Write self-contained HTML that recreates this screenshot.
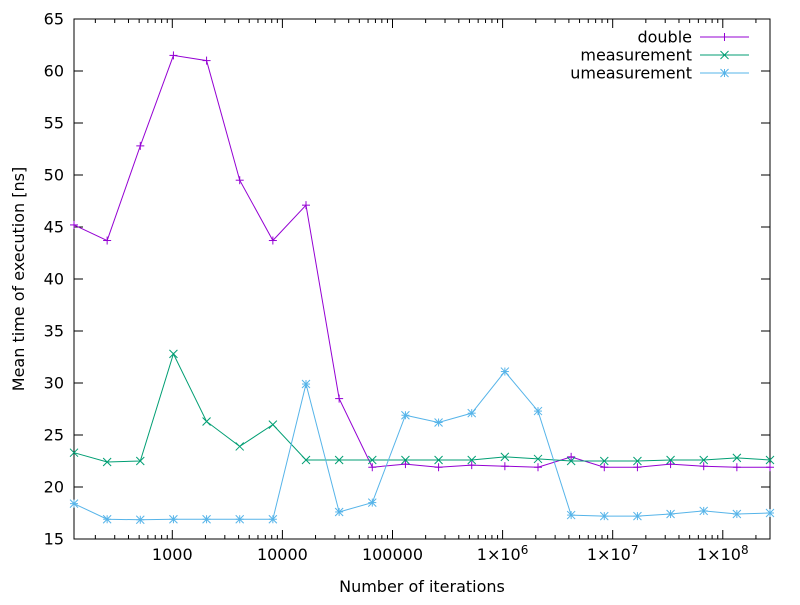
<!DOCTYPE html>
<html><head><meta charset="utf-8"><style>
body{margin:0;background:#fff}
svg text{font-family:"DejaVu Sans","Liberation Sans",sans-serif;font-size:16px;fill:#000}
</style></head><body>
<svg id="chart" width="800" height="600" xmlns="http://www.w3.org/2000/svg">
<g id="axes"></g>
<g id="series"></g>
<g id="legend"></g>
</svg>
<script>
const iterExponents=[7,8,9,10,11,12,13,14,15,16,17,18,19,20,21,22,23,24,25,26,27,28];
const doubleVals=[45.2,43.7,52.8,61.5,61.0,49.5,43.7,47.1,28.5,21.9,22.2,21.9,22.1,22.0,21.9,22.9,21.9,21.9,22.2,22.0,21.9,21.9];
const measurementVals=[23.3,22.4,22.5,32.8,26.3,23.9,26.0,22.6,22.6,22.6,22.6,22.6,22.6,22.9,22.7,22.5,22.5,22.5,22.6,22.6,22.8,22.6];
const umeasurementVals=[18.4,16.9,16.85,16.9,16.9,16.9,16.9,29.9,17.6,18.5,26.9,26.2,27.1,31.1,27.3,17.3,17.2,17.2,17.4,17.7,17.4,17.5];
const yTicks=[15,20,25,30,35,40,45,50,55,60,65];
const xTickBase=["1000","10000","100000","1×10","1×10","1×10"];
const xTickExp=["","","","6","7","8"];
const xTickValues=[1e3,1e4,1e5,1e6,1e7,1e8];

const L=74,R=770,T=19,B=539;
const xMin=Math.log10(128),xMax=Math.log10(Math.pow(2,28));
const X=v=>L+(Math.log10(v)-xMin)/(xMax-xMin)*(R-L);
const Y=v=>B-(v-15)/(65-15)*(B-T);
const NS="http://www.w3.org/2000/svg";
function mk(tag,attrs,parent){const e=document.createElementNS(NS,tag);for(const k in attrs)e.setAttribute(k,attrs[k]);parent.appendChild(e);return e;}
const axes=document.getElementById('axes');
const frame=mk('rect',{x:L,y:T,width:R-L,height:B-T,fill:'none',stroke:'#000','stroke-width':1},axes);


yTicks.forEach(v=>{
  const y=Y(v);
  mk('line',{x1:L,x2:L+9,y1:y,y2:y,stroke:'#000'},axes);
  mk('line',{x1:R,x2:R-9,y1:y,y2:y,stroke:'#000'},axes);
  const t=mk('text',{x:L-10,y:y+5.5,'text-anchor':'end'},axes);t.textContent=v;
  
  
});
for(let d=2;d<=8;d++){for(let m=1;m<10;m++){
  const v=m*Math.pow(10,d);const x=X(v);if(x<L-0.5||x>R+0.5)continue;
  const len=m===1?9:4;
  mk('line',{x1:x,x2:x,y1:B,y2:B-len,stroke:'#000'},axes);
  mk('line',{x1:x,x2:x,y1:T,y2:T+len,stroke:'#000'},axes);
}}
xTickValues.forEach((v,i)=>{
  const t=mk('text',{x:X(v),y:B+21,'text-anchor':'middle'},axes);
  
  
  const a=mk('tspan',{},t);a.textContent=xTickBase[i];
  if(xTickExp[i]){const b=mk('tspan',{dy:-6,'font-size':'12px'},t);b.textContent=xTickExp[i];}
});
const xt=mk('text',{x:422,y:592,'text-anchor':'middle'},axes);xt.textContent='Number of iterations';


const yt=mk('text',{x:24,y:279,'text-anchor':'middle',transform:'rotate(-90 24 279)'},axes);yt.textContent='Mean time of execution [ns]';



function marker(kind,x,y,c,g){
  const s=4;
  if(kind==='plus'||kind==='star'){mk('line',{x1:x-s,x2:x+s,y1:y,y2:y,stroke:c},g);mk('line',{x1:x,x2:x,y1:y-s,y2:y+s,stroke:c},g);}
  if(kind==='cross'||kind==='star'){mk('line',{x1:x-s,x2:x+s,y1:y-s,y2:y+s,stroke:c},g);mk('line',{x1:x-s,x2:x+s,y1:y+s,y2:y-s,stroke:c},g);}
}
const series=[['double',doubleVals,'#9400d3','plus'],['measurement',measurementVals,'#009e73','cross'],['umeasurement',umeasurementVals,'#56b4e9','star']];
const sg=document.getElementById('series'),lg=document.getElementById('legend');
series.forEach(([name,vals,c,mkind],si)=>{
  const g=mk('g',{},sg);
  
  
  const pts=vals.map((v,i)=>[X(Math.pow(2,iterExponents[i])),Y(v)]);
  mk('polyline',{points:pts.map(p=>p.join(',')).join(' '),fill:'none',stroke:c,'stroke-width':1},g);
  pts.forEach(p=>marker(mkind,p[0],p[1],c,g));
  const ly=37+si*18;
  const le=mk('g',{},lg);
  
  
  const t=mk('text',{x:692,y:ly+5.5,'text-anchor':'end'},le);t.textContent=name;
  mk('line',{x1:700,x2:749,y1:ly,y2:ly,stroke:c},le);
  marker(mkind,724.5,ly,c,le);
});
</script>
</body></html>
